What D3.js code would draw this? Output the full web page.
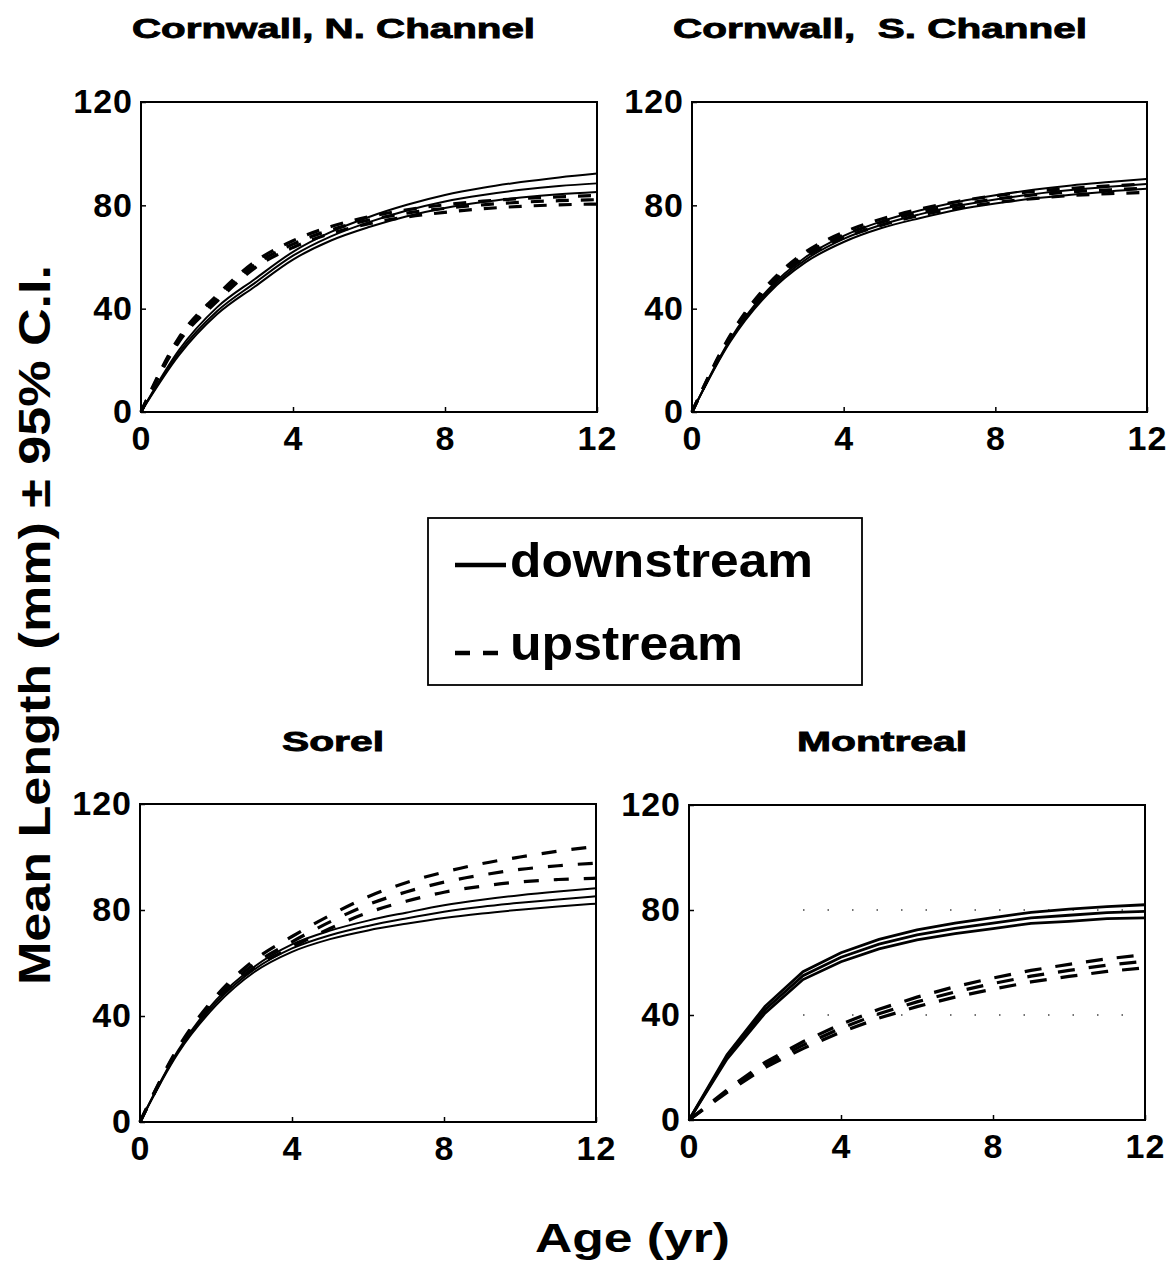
<!DOCTYPE html>
<html lang="en">
<head>
<meta charset="utf-8">
<title>Mean length at age, downstream vs upstream</title>
<script src="https://d3js.org/d3.v7.min.js"></script>
<style>
  body { margin: 0; background: #fff; }
  svg text { font-family: "Liberation Sans", Arial, Helvetica, sans-serif; fill: #000; }
</style>
</head>
<body>
<script>

// ages (yr) at which every curve is read
var ages = [0, 1, 2, 3, 4, 5, 6, 7, 8, 9, 10, 11, 12];
var xTicks = [0, 4, 8, 12];
var yTicks = [0, 40, 80, 120];
var panelTitles = ["Cornwall, N. Channel", "Cornwall,  S. Channel", "Sorel", "Montreal"];
var legendLabels = ["downstream", "upstream"];

// Cornwall, N. Channel - mean length (mm) and 95% C.I. bounds
var cnDownMean  = [0, 23, 39, 50, 60.5, 68, 73.5, 78, 81.5, 84, 86, 87.5, 88.5];
var cnDownUpper = [0, 24, 40.5, 51.5, 62, 69.7, 75.5, 80.2, 84, 86.8, 89, 90.8, 92.3];
var cnDownLower = [0, 22, 37.8, 48.6, 59, 66.4, 71.6, 75.8, 79, 81.3, 83, 84.3, 85.2];
var cnUpMean    = [0, 28, 44, 57, 65, 70.5, 74.3, 77, 78.8, 80.2, 81.2, 81.8, 82.2];
var cnUpUpper   = [0, 28.8, 45.2, 58.2, 66.3, 71.8, 75.6, 78.3, 80.2, 81.6, 82.6, 83.3, 83.8];
var cnUpLower   = [0, 27.2, 42.8, 55.8, 63.7, 69.1, 72.9, 75.5, 77.3, 78.7, 79.6, 80.2, 80.5];

// Cornwall, S. Channel
var csDownMean  = [0, 27.5, 46.5, 59, 67, 72.5, 76.5, 79.8, 82.3, 84.3, 85.9, 87.2, 88.3];
var csDownUpper = [0, 28, 47.3, 60, 68.2, 73.8, 78, 81.3, 83.9, 86, 87.7, 89, 90.2];
var csDownLower = [0, 27, 45.7, 58, 65.8, 71.2, 75, 78.3, 80.7, 82.6, 84.1, 85.4, 86.4];
var csUpMean    = [0, 29, 48.5, 61, 68.5, 73.5, 77.3, 80.2, 82.4, 84, 85.2, 86, 86.6];
var csUpUpper   = [0, 29.5, 49.3, 62, 69.6, 74.7, 78.5, 81.5, 83.7, 85.4, 86.6, 87.5, 88.2];
var csUpLower   = [0, 28.5, 47.7, 60, 67.4, 72.3, 76.1, 78.9, 81.1, 82.6, 83.8, 84.5, 85];

// Sorel
var soDownMean  = [0, 26.5, 45, 57.5, 65.5, 70.5, 74, 76.8, 79.3, 81.2, 82.7, 84, 85.2];
var soDownUpper = [0, 27, 46, 58.5, 67, 72.2, 76, 79, 81.8, 83.9, 85.6, 87, 88.2];
var soDownLower = [0, 26, 44, 56.5, 64.2, 69, 72.3, 74.8, 77, 78.7, 80.1, 81.3, 82.4];
var soUpMean    = [0, 27.5, 46.5, 59.5, 68, 75.5, 82, 86.8, 90.5, 93.2, 95.3, 96.7, 97.7];
var soUpUpper   = [0, 28, 47.5, 61, 70, 78, 85, 90.3, 94.3, 97.5, 100, 102.2, 104];
var soUpLower   = [0, 27, 45.5, 58, 66, 73, 79, 83.3, 86.7, 89, 90.6, 91.5, 92];

// Montreal
var moDownMean  = [0, 24, 42, 55, 62, 67, 70.5, 73, 75, 77, 78, 79, 79.5];
var moDownUpper = [0, 24.8, 43.3, 56.5, 63.7, 68.8, 72.4, 75, 77.1, 79.1, 80.3, 81.3, 82];
var moDownLower = [0, 23.2, 40.7, 53.5, 60.3, 65.2, 68.6, 71, 72.9, 74.9, 75.7, 76.7, 77];
var moUpMean    = [0, 11, 21, 28.5, 35, 40.5, 45, 48.8, 52, 54.8, 57, 59, 60.5];
var moUpUpper   = [0, 11.5, 22, 29.8, 36.5, 42.2, 46.8, 50.8, 54.1, 57, 59.3, 61.4, 63];
var moUpLower   = [0, 10.5, 20, 27.2, 33.5, 38.8, 43.2, 46.8, 49.9, 52.6, 54.7, 56.6, 58];

// Panel layout (pixel boxes, title placement, dash style)
var panels = [
  { title: panelTitles[0], x0: 141, x1: 597, y0: 102, y1: 412, tx: 132, tw: 403, ty: 38,
    down: [cnDownLower, cnDownMean, cnDownUpper], up: [cnUpLower, cnUpMean, cnUpUpper],
    dash: "13,12", curve: d3.curveMonotoneX },
  { title: panelTitles[1], x0: 692, x1: 1147, y0: 102, y1: 412, tx: 673, tw: 414, ty: 38,
    down: [csDownLower, csDownMean, csDownUpper], up: [csUpLower, csUpMean, csUpUpper],
    dash: "13,12", curve: d3.curveMonotoneX },
  { title: panelTitles[2], x0: 140, x1: 596, y0: 804, y1: 1122, tx: 282, tw: 102, ty: 751,
    down: [soDownLower, soDownMean, soDownUpper], up: [soUpLower, soUpMean, soUpUpper],
    dash: "15,15", curve: d3.curveMonotoneX },
  { title: panelTitles[3], x0: 689, x1: 1145, y0: 805, y1: 1120, tx: 797, tw: 170, ty: 751,
    down: [moDownLower, moDownMean, moDownUpper], up: [moUpLower, moUpMean, moUpUpper],
    dash: "17,14", curve: d3.curveLinear, dots: true }
];

var w = 1172, h = 1275;

var svg = d3.select("body")
            .append("svg")
            .attr("width", w)
            .attr("height", h);

panels.forEach(function(p) {
  var x = d3.scaleLinear().domain([0, 12]).range([p.x0, p.x1]);
  var y = d3.scaleLinear().domain([0, 120]).range([p.y1, p.y0]);

  var g = svg.append("g");

  // faint dotted scan marks seen in the Montreal panel
  if (p.dots) {
    [40, 80].forEach(function(v) {
      g.append("line")
       .attr("x1", x(3)).attr("x2", x(12))
       .attr("y1", y(v)).attr("y2", y(v))
       .style("stroke", "#444")
       .style("stroke-width", 1.3)
       .style("stroke-dasharray", "1.5,23");
    });
  }

  // axes with small inward ticks
  var xAxis = d3.axisBottom(x).tickValues(xTicks).tickSizeInner(-5).tickSizeOuter(0).tickPadding(14);
  var yAxis = d3.axisLeft(y).tickValues(yTicks).tickSizeInner(-5).tickSizeOuter(0).tickPadding(8);

  var gx = g.append("g").attr("transform", "translate(0," + p.y1 + ")").call(xAxis);
  var gy = g.append("g").attr("transform", "translate(" + p.x0 + ",0)").call(yAxis);

  [gx, gy].forEach(function(ax) {
    ax.select(".domain").remove();
    ax.selectAll("line").style("stroke", "#000").style("stroke-width", 1.5);
    ax.selectAll("text")
      .style("font-size", "34px")
      .style("font-weight", "bold")
      .style("letter-spacing", "1px")
      .style("font-family", "'Liberation Sans', Arial, sans-serif");
  });

  var line = d3.line()
               .x(function(d, i) { return x(ages[i]); })
               .y(function(d) { return y(d); })
               .curve(p.curve);

  // upstream (dashed)
  g.selectAll(".up")
   .data(p.up)
   .enter()
   .append("path")
   .attr("d", line)
   .style("fill", "none")
   .style("stroke", "#000")
   .style("stroke-width", 3.2)
   .style("stroke-dasharray", p.dash);

  // downstream (solid)
  g.selectAll(".down")
   .data(p.down)
   .enter()
   .append("path")
   .attr("d", line)
   .style("fill", "none")
   .style("stroke", "#000")
   .style("stroke-width", p.dots ? 2.8 : 2);

  // frame
  g.append("rect")
   .attr("x", p.x0).attr("y", p.y0)
   .attr("width", p.x1 - p.x0).attr("height", p.y1 - p.y0)
   .style("fill", "none")
   .style("stroke", "#000")
   .style("stroke-width", 2);

  // panel title
  svg.append("text")
     .attr("x", p.tx)
     .attr("y", p.ty)
     .attr("textLength", p.tw)
     .attr("lengthAdjust", "spacingAndGlyphs")
     .style("white-space", "pre")
     .style("font-size", "28px")
     .style("font-weight", "bold")
     .style("stroke", "#000")
     .style("stroke-width", 0.9)
     .text(p.title);
});

// legend
var leg = svg.append("g");
leg.append("rect")
   .attr("x", 428).attr("y", 518)
   .attr("width", 434).attr("height", 167)
   .style("fill", "none")
   .style("stroke", "#000")
   .style("stroke-width", 1.8);

leg.append("line")
   .attr("x1", 455).attr("x2", 506)
   .attr("y1", 565).attr("y2", 565)
   .style("stroke", "#000")
   .style("stroke-width", 4.5);

leg.append("line")
   .attr("x1", 455).attr("x2", 499)
   .attr("y1", 653).attr("y2", 653)
   .style("stroke", "#000")
   .style("stroke-width", 4.5)
   .style("stroke-dasharray", "15,13");

leg.append("text")
   .attr("x", 510).attr("y", 577)
   .attr("textLength", 303)
   .attr("lengthAdjust", "spacingAndGlyphs")
   .style("font-size", "48px")
   .style("font-weight", "bold")
   .text(legendLabels[0]);

leg.append("text")
   .attr("x", 510).attr("y", 660)
   .attr("textLength", 233)
   .attr("lengthAdjust", "spacingAndGlyphs")
   .style("font-size", "48px")
   .style("font-weight", "bold")
   .text(legendLabels[1]);

// y axis title
svg.append("text")
   .attr("transform", "translate(50,985) rotate(-90)")
   .attr("x", 0).attr("y", 0)
   .attr("textLength", 720)
   .attr("lengthAdjust", "spacingAndGlyphs")
   .style("font-size", "44px")
   .style("font-weight", "bold")
   .text("Mean Length (mm) \u00B1 95% C.I.");

// x axis title
svg.append("text")
   .attr("x", 535).attr("y", 1252)
   .attr("textLength", 195)
   .attr("lengthAdjust", "spacingAndGlyphs")
   .style("font-size", "41px")
   .style("font-weight", "bold")
   .text("Age (yr)");

</script>
</body>
</html>
